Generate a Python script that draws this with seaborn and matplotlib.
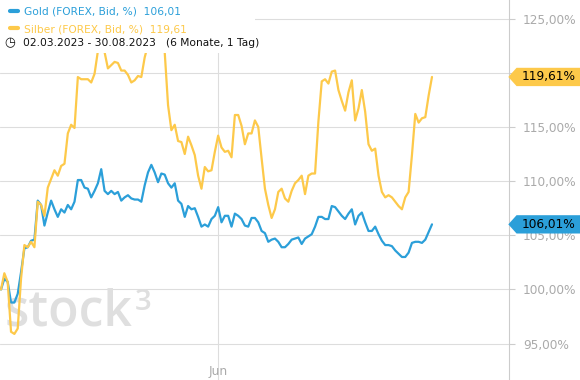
import numpy as np
import pandas as pd
import matplotlib
matplotlib.use("Agg")
import matplotlib.pyplot as plt
import matplotlib.transforms as mtransforms
from matplotlib.path import Path
from matplotlib.lines import Line2D
from matplotlib.patches import Rectangle
from matplotlib.ticker import FuncFormatter, FixedLocator
import seaborn as sns

# ---------------- data ----------------
dates = pd.bdate_range("2023-03-02", "2023-08-30")

gold = [100.0, 101.0, 100.7, 98.8, 98.8, 99.6, 101.6, 103.8, 103.9, 104.5,
        104.6, 108.2, 107.8, 105.9, 107.1, 108.2, 107.4, 106.7, 107.4, 107.1,
        107.8, 107.4, 108.1, 110.1, 110.1, 109.4, 109.3, 108.5, 109.1, 109.8,
        111.1, 109.1, 108.8, 109.1, 108.8, 109.0, 108.2, 108.5, 108.7, 108.4,
        108.3, 108.3, 108.1, 109.6, 110.8, 111.5, 110.8, 109.9, 110.7, 110.6,
        109.8, 109.4, 109.8, 108.2, 107.9, 106.7, 107.7, 107.4, 107.5, 106.7,
        105.8, 106.0, 105.8, 106.5, 106.8, 107.6, 106.2, 106.8, 106.8, 105.8,
        107.0, 106.8, 106.5, 105.9, 105.8, 106.6, 106.6, 106.2, 105.4, 105.2,
        104.4, 104.6, 104.7, 104.4, 103.9, 103.9, 104.2, 104.6, 104.7, 104.8,
        104.2, 104.7, 104.9, 105.1, 105.8, 106.7, 106.7, 106.5, 106.5, 107.7,
        107.6, 107.2, 106.8, 106.5, 107.0, 107.4, 106.0, 106.8, 107.1, 106.2,
        105.4, 105.4, 105.8, 105.1, 104.5, 104.1, 104.1, 104.0, 103.6, 103.3,
        103.0, 103.0, 103.4, 104.3, 104.4, 104.4, 104.3, 104.6, 105.3, 106.01]

silver = [100.0, 101.5, 100.7, 96.1, 95.9, 96.4, 101.0, 104.1, 103.9, 104.4,
          103.9, 108.1, 107.8, 106.8, 109.4, 110.2, 111.0, 110.5, 111.4, 111.6,
          114.4, 115.2, 114.9, 119.6, 119.4, 119.4, 119.4, 119.1, 119.9, 122.0,
          122.8, 121.9, 120.4, 120.7, 121.0, 120.9, 120.2, 120.2, 119.8, 119.1,
          119.3, 119.7, 119.6, 121.4, 122.6, 123.3, 123.6, 123.1, 123.4, 121.9,
          117.0, 114.7, 115.2, 113.7, 113.6, 112.5, 114.1, 113.3, 112.4, 110.5,
          109.3, 111.3, 110.9, 111.0, 112.7, 114.2, 113.1, 112.7, 112.8, 112.2,
          116.1, 116.1, 115.1, 113.4, 114.4, 114.4, 115.6, 115.0, 112.1, 109.3,
          107.8, 106.6, 107.4, 109.0, 109.3, 108.4, 108.1, 109.1, 109.8, 110.1,
          110.5, 108.8, 110.5, 110.7, 110.7, 115.5, 119.2, 119.4, 119.0, 120.1,
          120.2, 118.4, 117.4, 116.5, 118.2, 119.3, 115.6, 116.7, 118.4, 116.4,
          113.4, 112.8, 113.0, 110.5, 109.0, 108.5, 108.7, 108.5, 108.1, 107.7,
          107.4, 108.5, 109.0, 112.4, 116.2, 115.4, 115.8, 115.9, 117.9, 119.61]

series_names = ["Gold", "Silber"]
series_labels = ["Gold (FOREX, Bid, %)", "Silber (FOREX, Bid, %)"]
yticks = [95, 100, 105, 110, 115, 120, 125]
period_text = "(6 Monate, 1 Tag)"

BLUE = "#2b9fd9"
YELLOW = "#fdc94a"
colors = {"Gold": BLUE, "Silber": YELLOW}

df = pd.DataFrame({"idx": np.arange(len(dates)), "date": dates,
                   "Gold": gold, "Silber": silver})
long = df.melt(id_vars=["idx", "date"], value_vars=series_names,
               var_name="series", value_name="value")

def de(v, nd=2):
    return f"{v:.{nd}f}".replace(".", ",")

last_vals = [df[n].iloc[-1] for n in series_names]

# ---------------- figure ----------------
sns.set_theme(style="white")
plt.rcParams["font.family"] = ["DejaVu Sans"]

fig = plt.figure(figsize=(5.8, 3.8), dpi=100)
ax = fig.add_axes([0, 0, 509 / 580, 1])

sns.lineplot(data=long, x="idx", y="value", hue="series", palette=colors,
             linewidth=1.6, legend=False, ax=ax, zorder=2)

ax.set_xlim(-0.3, 152.05)
ax.set_ylim(91.65, 126.71)
ax.set_xlabel("")
ax.set_ylabel("")

# y axis on the right; a label hidden under a value tag is left blank
def ylab(v, p):
    if any(abs(v - lv) < 0.6 for lv in last_vals):
        return ""
    return de(v) + "%"

ax.yaxis.tick_right()
ax.yaxis.set_major_locator(FixedLocator(yticks))
ax.yaxis.set_major_formatter(FuncFormatter(ylab))
ax.tick_params(axis="y", right=True, left=False, length=4, width=0.8,
               color="#cccccc", labelcolor="#aaaaaa", labelsize=8.7, pad=6)

# x axis: month tick (first June trading day)
jun_idx = int(df.index[df["date"].dt.month == 6][0])
ax.set_xticks([jun_idx])
ax.set_xticklabels(["Jun"])
ax.tick_params(axis="x", bottom=False, length=0, pad=-11,
               labelcolor="#aaaaaa", labelsize=8.7)

ax.grid(True, color="#dddddd", linewidth=0.8)
ax.set_axisbelow(True)
for s in ["left", "top", "bottom"]:
    ax.spines[s].set_visible(False)
ax.spines["right"].set_color("#cccccc")
ax.spines["right"].set_linewidth(0.8)

# watermark
wm = ax.text(5 / 509, (380 - 325) / 380, "stock", transform=ax.transAxes,
             fontsize=36, color="#dfdfdf", va="baseline", ha="left",
             family=["Open Sans", "DejaVu Sans"], fontweight="semibold",
             zorder=1)
ax.annotate("3", xy=(1.0, 1.0), xycoords=wm, xytext=(1, -1),
            textcoords="offset points", fontsize=21, color="#dfdfdf",
            va="top", ha="left", family=["Open Sans", "DejaVu Sans"],
            fontweight="semibold", zorder=1)

# white legend panel
ax.add_patch(Rectangle((0, 1 - 53 / 380), 255 / 509, 53 / 380,
                       transform=ax.transAxes, facecolor="white",
                       edgecolor="none", zorder=4))

handles = [Line2D([], [], color=colors[n], lw=3) for n in series_names]
labels = [f"{lab}  {de(v)}" for lab, v in zip(series_labels, last_vals)]
leg = ax.legend(handles, labels, loc="upper left", bbox_to_anchor=(0.004, 1.002),
                frameon=False, fontsize=7.7, handlelength=0.75,
                handletextpad=0.65, labelspacing=0.7, borderaxespad=0,
                borderpad=0.7, labelcolor=[colors[n] for n in series_names])
leg.set_zorder(5)

date_txt = f"{dates[0]:%d.%m.%Y} - {dates[-1]:%d.%m.%Y}   {period_text}"
ax.text(10 / 509, 1 - 43 / 380, "\u25f7", transform=ax.transAxes,
        fontsize=9, ha="center", va="center", color="#111111", zorder=6)
ax.text(23 / 509, 1 - 43 / 380, date_txt, transform=ax.transAxes,
        fontsize=7.7, ha="left", va="center", color="#111111", zorder=6)

# value tags on the right axis
def tag_style(x0, y0, width, height, mutation_size):
    padx = 0.45 * mutation_size
    pady = 0.22 * mutation_size
    x0, y0 = x0 - padx, y0 - pady
    width, height = width + 2 * padx, height + 2 * pady
    tip = 0.45 * height
    verts = [(x0 - tip, y0 + height / 2), (x0, y0 + height),
             (x0 + width, y0 + height), (x0 + width, y0), (x0, y0),
             (x0 - tip, y0 + height / 2)]
    return Path(verts, closed=True)

blend = mtransforms.blended_transform_factory(ax.transAxes, ax.transData)
for n, v in zip(series_names, last_vals):
    ax.text(1 + 13 / 509, v, de(v) + "%", transform=blend, fontsize=8.7,
            color="black", ha="left", va="center", clip_on=False, zorder=7,
            bbox=dict(boxstyle=tag_style, facecolor=colors[n], edgecolor="none"))

fig.savefig("out.png", dpi=100)
